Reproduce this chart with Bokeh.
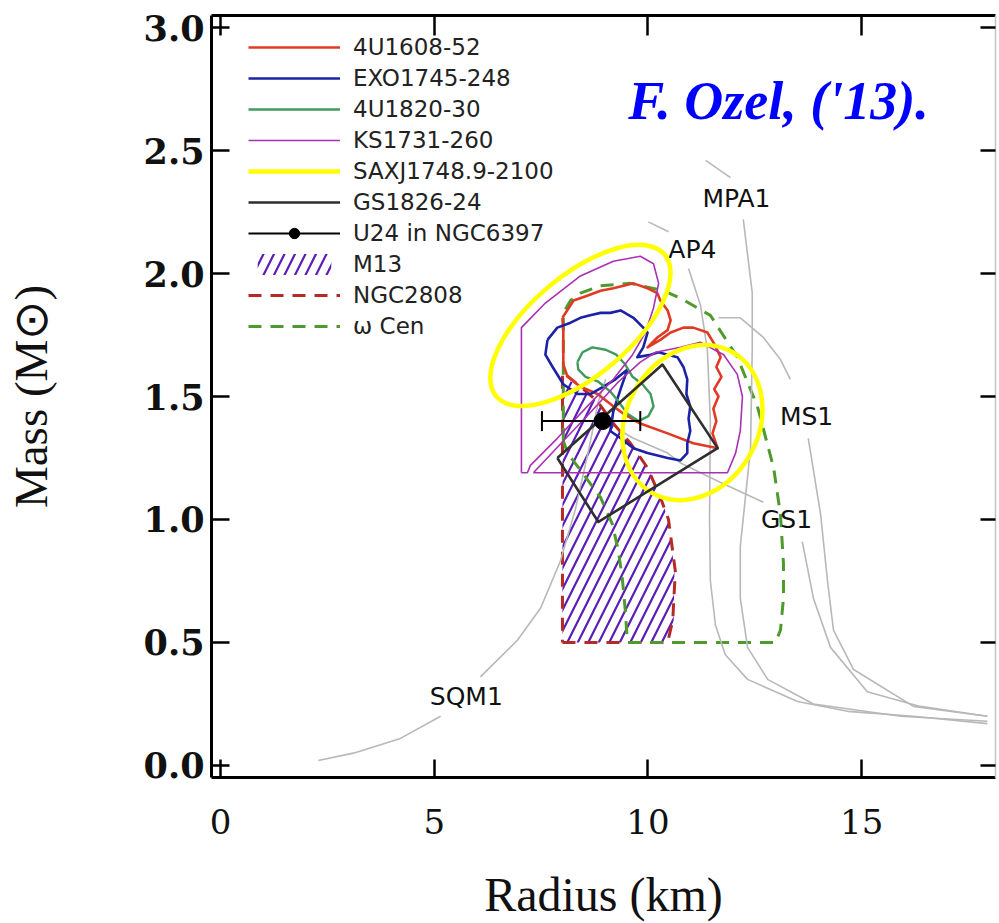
import numpy as np
from bokeh.plotting import figure
from bokeh.models import (Range1d, LinearAxis, FixedTicker, Legend, LegendItem, Label,
                          PrintfTickFormatter)
from bokeh.core.properties import value
from bokeh.embed import file_html
from bokeh.resources import INLINE

nan = float("nan")

# ---------------- ticks ----------------
x_ticks = [0, 5, 10, 15]
y_ticks = [0.0, 0.5, 1.0, 1.5, 2.0, 2.5, 3.0]

# ---------------- EOS mass-radius curves (R km, M Msun); NaN = gap under label
sqm1_r = [2.29, 3.11, 4.21, 5.15, nan, 6.08, 6.95, 7.49, 7.95, 8.30, 8.61, 8.84, 9.01]
sqm1_m = [0.02, 0.05, 0.11, 0.20, nan, 0.36, 0.51, 0.64, 0.83, 1.04, 1.28, 1.48, 1.57]
ap4_r = [10.01, 10.48, nan, 10.95, 11.23, 11.39, 11.46, 11.44, 11.46, 11.58, 11.81, 12.33, 13.50, 14.67, 16.21, 17.94]
ap4_m = [2.21, 2.17, nan, 2.02, 1.87, 1.69, 1.40, 1.00, 0.75, 0.57, 0.45, 0.35, 0.26, 0.22, 0.20, 0.17]
mpa1_r = [11.35, 11.93, nan, 12.23, 12.44, 12.44, 12.40, 12.16, 12.16, 12.33, 12.80, 13.87, 15.91, 17.94]
mpa1_m = [2.46, 2.39, nan, 2.22, 1.92, 1.70, 1.29, 0.89, 0.68, 0.48, 0.35, 0.25, 0.20, 0.18]
ms1_r = [11.65, 12.16, 12.70, 13.10, 13.33, nan, 13.75, 14.04, 14.20, 14.34, 14.81, 16.21, 17.94]
ms1_m = [1.82, 1.82, 1.74, 1.65, 1.57, nan, 1.33, 1.02, 0.75, 0.55, 0.39, 0.24, 0.20]
gs1_r = [9.36, 9.66, 10.46, 10.76, 11.70, 12.70, nan, 13.61, 13.87, 14.27, 15.13, 16.37, 17.94]
gs1_m = [1.36, 1.33, 1.27, 1.23, 1.15, 1.07, nan, 0.91, 0.68, 0.48, 0.30, 0.24, 0.20]

eos_names = ["MPA1", "AP4", "MS1", "GS1", "SQM1"]
eos_label_r = [12.07, 11.04, 13.71, 13.24, 5.75]
eos_label_m = [2.305, 2.098, 1.419, 1.00, 0.28]

# ---------------- source contours (R km, M Msun) ----------------
u1608_r = [8.00, 8.26, 8.58, 8.89, 9.19, 9.43, 9.66, 9.99, 10.22, 10.29, 10.46, 10.53, 10.46, 10.22, 9.99,
           10.29, 10.53, 10.83, 11.06, 11.39, 11.53, 11.70, 11.60, 11.72, 11.55, 11.65, 11.53, 11.60, 11.51,
           11.63, 11.06, 10.46, 9.82, 9.43, 9.19, 8.82, 8.42, 8.12, 8.02, 8.02, 8.02]
u1608_m = [1.82, 1.89, 1.91, 1.93, 1.94, 1.95, 1.96, 1.94, 1.92, 1.89, 1.85, 1.81, 1.77, 1.74, 1.70,
           1.73, 1.76, 1.78, 1.78, 1.76, 1.72, 1.66, 1.62, 1.58, 1.53, 1.50, 1.45, 1.40, 1.35,
           1.29, 1.31, 1.35, 1.39, 1.43, 1.46, 1.51, 1.54, 1.58, 1.63, 1.70, 1.77]

exo_r = [7.65, 7.88, 8.19, 8.42, 8.65, 8.89, 9.12, 9.36, 9.66, 9.89, 9.99, 9.89, 9.75, 10.06, 10.25, 10.46,
         10.69, 10.83, 10.92, 10.90, 10.99, 10.95, 10.99, 10.92, 10.92, 10.76, 10.46, 9.99, 9.66, 9.36,
         9.12, 9.19, 9.36, 9.52, 9.24, 8.96, 8.65, 8.35, 8.02, 7.77, 7.60]
exo_m = [1.73, 1.78, 1.80, 1.82, 1.83, 1.84, 1.84, 1.85, 1.82, 1.78, 1.76, 1.70, 1.66, 1.67, 1.68, 1.67,
         1.66, 1.62, 1.57, 1.51, 1.46, 1.41, 1.36, 1.31, 1.27, 1.24, 1.25, 1.27, 1.29, 1.33,
         1.36, 1.44, 1.53, 1.61, 1.57, 1.54, 1.51, 1.51, 1.55, 1.62, 1.67]

u1820_r = [8.35, 8.47, 8.70, 9.01, 9.26, 9.47, 9.64, 9.87, 10.06, 10.13, 10.01, 9.78, 9.52, 9.31, 9.12, 8.84, 8.54, 8.37]
u1820_m = [1.64, 1.68, 1.70, 1.69, 1.67, 1.63, 1.58, 1.55, 1.51, 1.46, 1.42, 1.40, 1.43, 1.48, 1.52, 1.56, 1.58, 1.61]

ks_a_r = [7.04, 7.04, 7.60, 8.42, 9.19, 9.82, 10.13, 10.25, 10.13, 9.94, 9.64, 9.19, 8.58, 7.88, 7.25, 7.18]
ks_a_m = [1.19, 1.78, 1.88, 1.99, 2.05, 2.07, 2.04, 1.96, 1.86, 1.76, 1.67, 1.57, 1.46, 1.33, 1.22, 1.19]
ks_b_r = [7.32, 7.97, 8.68, 9.31, 9.82, 10.18, 10.76, 11.23, 11.77, 12.09, 12.21, 12.16, 12.05, 11.86]
ks_b_m = [1.19, 1.31, 1.44, 1.56, 1.64, 1.68, 1.70, 1.72, 1.67, 1.59, 1.50, 1.36, 1.27, 1.19]

gs1826_r = [7.88, 10.34, 11.63, 8.84]
gs1826_m = [1.25, 1.63, 1.29, 0.99]

# SAX J1748.9-2100: two elliptical regions (centre, axes, tilt)
sax_r = [8.42, 11.04]
sax_m = [1.789, 1.394]
sax_w = [5.15, 3.79]
sax_h = [0.407, 0.537]
sax_angle = [0.70, 1.05]

# U24 in NGC6397
u24_r = [8.94]
u24_m = [1.40]
u24_lo = [7.52]
u24_hi = [9.82]

# globular-cluster qLMXB regions
m13_r = [8.00, 10.50, 10.60, 10.62, 10.48, 10.29, 9.99, 9.59, 9.24, 8.82, 8.42, 8.00]
m13_m = [0.50, 0.50, 0.58, 0.79, 1.00, 1.09, 1.21, 1.31, 1.38, 1.48, 1.54, 1.58]
ngc2808_r = [8.00, 10.46, 10.58, 10.64, 10.48, 10.29, 9.99, 9.59, 9.24, 8.82, 8.42, 8.00]
ngc2808_m = [0.50, 0.50, 0.59, 0.79, 1.00, 1.09, 1.21, 1.31, 1.38, 1.48, 1.54, 1.60]
wcen_r = [8.02, 8.02, 8.19, 8.42, 8.89, 9.59, 10.36, 10.76, 11.46, 12.09, 12.56, 12.94, 13.10, 13.17, 13.17,
          13.10, 12.98, 9.52, 9.47, 9.40, 9.31, 9.17, 8.89, 8.42, 8.12]
wcen_m = [1.32, 1.84, 1.89, 1.92, 1.95, 1.96, 1.93, 1.90, 1.83, 1.66, 1.46, 1.21, 1.02, 0.82, 0.68,
          0.55, 0.50, 0.50, 0.63, 0.76, 0.87, 0.98, 1.09, 1.20, 1.27]


def closed(a):
    return list(a) + [a[0]]


p = figure(width=999, height=923, output_backend="svg", toolbar_location=None,
           x_range=Range1d(-0.21, 18.13), y_range=Range1d(-0.049, 3.049),
           min_border_left=211, min_border_right=4, min_border_top=15, min_border_bottom=146,
           x_axis_label="Radius (km)", y_axis_label="Mass (M\u2299)")
p.grid.visible = False
p.outline_line_color = None
p.background_fill_color = "white"
p.border_fill_color = "white"

# bottom axis
xa = p.xaxis[0]
xa.ticker = FixedTicker(ticks=x_ticks)
xa.major_tick_in = 18
xa.major_tick_out = 0
xa.minor_tick_line_color = None
xa.axis_line_width = 3
xa.major_tick_line_width = 2.5
xa.major_label_text_font = "DejaVu Serif"
xa.major_label_text_font_size = "34px"
xa.major_label_text_color = "#111111"
xa.major_label_standoff = 31
xa.axis_label_text_font = "Liberation Serif"
xa.axis_label_text_font_style = "normal"
xa.axis_label_text_font_size = "48px"
xa.axis_label_text_color = "#111111"
xa.axis_label_standoff = 31

# left axis
ya = p.yaxis[0]
ya.ticker = FixedTicker(ticks=y_ticks)
ya.formatter = PrintfTickFormatter(format="%.1f")
ya.major_tick_in = 18
ya.major_tick_out = 0
ya.minor_tick_line_color = None
ya.axis_line_width = 3
ya.major_tick_line_width = 2.5
ya.major_label_text_font = "DejaVu Serif"
ya.major_label_text_font_style = "bold"
ya.major_label_text_font_size = "35px"
ya.major_label_text_color = "#111111"
ya.major_label_standoff = 7
ya.axis_label_text_font = "Liberation Serif"
ya.axis_label_text_font_style = "normal"
ya.axis_label_text_font_size = "47px"
ya.axis_label_text_color = "#111111"
ya.axis_label_standoff = 84

# top and right frame axes (ticks only)
top = LinearAxis(ticker=FixedTicker(ticks=x_ticks), major_tick_in=20, major_tick_out=0,
                 minor_tick_line_color=None, axis_line_width=3, major_tick_line_width=2.5,
                 major_label_overrides={t: "" for t in x_ticks},
                 major_label_text_font_size="0px", major_label_standoff=0)
p.add_layout(top, "above")
right = LinearAxis(ticker=FixedTicker(ticks=y_ticks), major_tick_in=15, major_tick_out=0,
                   minor_tick_line_color=None, axis_line_width=1.5, axis_line_color="#c4c4c4",
                   major_tick_line_width=2.5,
                   major_label_overrides={t: "" for t in y_ticks},
                   major_label_text_font_size="0px", major_label_standoff=0)
p.add_layout(right, "right")

# globular cluster regions
r_m13 = p.patch(m13_r, m13_m, fill_color=None, line_color=None, hatch_pattern="/",
                hatch_color="#5b1db8", hatch_weight=2.2, hatch_scale=21)
r_ngc = p.line(closed(ngc2808_r), closed(ngc2808_m), line_color="#b42a26", line_width=3,
               line_dash="13 9")
r_wcen = p.line(closed(wcen_r), closed(wcen_m), line_color="#4f9a2c", line_width=3,
                line_dash="13 9")

# EOS curves
eos_col = "#b8b8b8"
for rr, mm in [(sqm1_r, sqm1_m), (ap4_r, ap4_m), (mpa1_r, mpa1_m), (ms1_r, ms1_m), (gs1_r, gs1_m)]:
    p.line(rr, mm, line_color=eos_col, line_width=1.6, line_join="round")
p.text(x=eos_label_r, y=eos_label_m, text=eos_names, text_font=value("DejaVu Sans"),
       text_font_size="25px", text_align="center", text_baseline="middle", text_color="#111111")

# source contours
r_1608 = p.line(closed(u1608_r), closed(u1608_m), line_color="#e03a24", line_width=2.6, line_join="round")
r_exo = p.line(closed(exo_r), closed(exo_m), line_color="#1c22a6", line_width=2.6, line_join="round")
r_1820 = p.line(closed(u1820_r), closed(u1820_m), line_color="#3f9a5e", line_width=2.4, line_join="round")
r_ks = p.multi_line([closed(ks_a_r), closed(ks_b_r)], [closed(ks_a_m), closed(ks_b_m)],
                    line_color="#aa30b2", line_width=1.6)
p.ellipse(x=sax_r, y=sax_m, width=sax_w, height=sax_h, angle=sax_angle,
          fill_color=None, line_color="#ffff00", line_width=4.5)
r_sax = p.line(x=[nan], y=[nan], line_color="#ffff00", line_width=4.5)
r_gs = p.line(closed(gs1826_r), closed(gs1826_m), line_color="#2e2e2e", line_width=2.6, line_join="round")

# U24
r_u24bar = p.segment(x0=u24_lo, y0=u24_m, x1=u24_hi, y1=u24_m, line_color="black", line_width=2)
p.scatter(x=u24_lo + u24_hi, y=u24_m + u24_m, marker="dash", angle=np.pi / 2, size=20,
          line_color="black", line_width=2)
r_u24dot = p.scatter(x=u24_r, y=u24_m, size=17, color="black")

items = [
    LegendItem(label="4U1608-52", renderers=[r_1608]),
    LegendItem(label="EXO1745-248", renderers=[r_exo]),
    LegendItem(label="4U1820-30", renderers=[r_1820]),
    LegendItem(label="KS1731-260", renderers=[r_ks]),
    LegendItem(label="SAXJ1748.9-2100", renderers=[r_sax]),
    LegendItem(label="GS1826-24", renderers=[r_gs]),
    LegendItem(label="U24 in NGC6397", renderers=[r_u24bar, r_u24dot]),
    LegendItem(label="M13", renderers=[r_m13]),
    LegendItem(label="NGC2808", renderers=[r_ngc]),
    LegendItem(label="\u03c9 Cen", renderers=[r_wcen]),
]
legend = Legend(items=items, location=(37, 438), orientation="vertical",
                glyph_width=92, glyph_height=26, label_height=26, spacing=5,
                padding=0, margin=0, label_standoff=13,
                label_text_font="DejaVu Sans", label_text_font_size="23px",
                label_text_color="#222222",
                border_line_color=None, background_fill_alpha=0)
p.add_layout(legend)

title = Label(x=9.54, y=2.70, text="F. Ozel, ('13).", text_font="Liberation Serif",
              text_font_style="bold italic", text_font_size="54px", text_color="#0000ff",
              text_baseline="alphabetic")
p.add_layout(title)

open("out.html", "w").write(file_html(p, INLINE))
